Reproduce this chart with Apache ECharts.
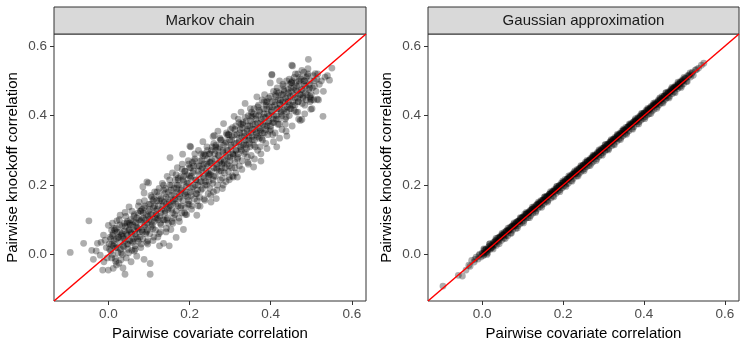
<!DOCTYPE html>
<html>
<head>
<meta charset="utf-8">
<script src="https://cdn.jsdelivr.net/npm/echarts@6/dist/echarts.min.js"></script>
<style>html,body{margin:0;padding:0;background:#fff;}#c{width:747px;height:349px;}</style>
</head>
<body>
<div id="c"></div>
<script>
const panelTitles = ['Markov chain', 'Gaussian approximation'];
const xTitle = 'Pairwise covariate correlation';
const yTitle = 'Pairwise knockoff correlation';
const tickVals = [0, 0.2, 0.4, 0.6];
const axisRange = [-0.134, 0.635];

// Markov chain panel: scattered points
const markovPoints = [
[-0.094,0.006],[-0.061,0.032],[-0.048,0.097],[-0.041,0.012],[-0.037,-0.014],[-0.027,0.032],[-0.02,-0.002],[-0.012,0.056],[-0.011,-0.021],[-0.014,-0.045],[-0.008,0.041],[-0.03,0.01],[-0.005,0.02],[-0.018,0.035],[-0.003,-0.01],
[0.0,0.084],[0.0,-0.045],[0.012,-0.04],[0.008,0.07],[0.021,0.097],[0.041,-0.057],[0.029,0.113],[0.041,0.121],[0.003,0.015],[0.006,0.045],[0.01,0.0],[0.012,0.06],[0.015,0.03],[0.017,-0.012],[0.019,0.075],[0.022,0.02],[0.024,0.048],[0.026,-0.025],[0.028,0.065],[0.03,0.035],[0.032,0.005],[0.034,0.082],[0.036,0.052],[0.036,-0.039],[0.038,0.022],[0.04,0.068],[0.042,0.04],[0.044,-0.01],[0.046,0.09],[0.047,0.055],[0.049,0.03],[0.02,-0.03],[0.008,0.028],
[0.051,0.137],[0.056,-0.021],[0.052,0.072],[0.053,0.04],[0.055,0.1],[0.057,0.06],[0.058,0.012],[0.06,0.085],[0.062,0.045],[0.063,0.11],[0.065,0.068],[0.066,0.025],[0.068,0.092],[0.069,0.05],[0.07,-0.005],[0.071,0.078],[0.073,0.12],[0.074,0.038],[0.076,0.151],[0.077,0.065],[0.079,0.095],[0.08,0.02],[0.082,0.07],[0.083,0.13],[0.085,0.195],[0.085,0.045],[0.086,0.105],[0.088,-0.014],[0.088,0.177],[0.089,0.08],[0.09,0.14],[0.092,0.06],[0.093,0.115],[0.095,0.209],[0.096,0.09],[0.097,0.03],[0.099,0.206],[0.099,0.125],
[0.103,-0.057],[0.103,-0.026],[0.101,0.1],[0.102,0.06],[0.104,0.145],[0.105,0.08],[0.107,0.165],[0.108,0.115],[0.11,0.04],[0.111,0.135],[0.113,0.095],[0.114,0.18],[0.116,0.07],[0.117,0.125],[0.119,0.155],[0.12,0.105],[0.122,0.05],[0.123,0.14],[0.125,0.19],[0.126,0.025],[0.127,0.11],[0.129,0.16],[0.13,0.085],[0.132,0.13],[0.133,0.205],[0.135,0.1],[0.136,0.032],[0.137,0.15],[0.139,0.175],[0.14,0.12],[0.142,0.065],[0.143,0.145],[0.145,0.225],[0.146,0.105],[0.147,0.16],[0.149,0.135],[0.15,0.025],[0.148,0.09],
[0.152,0.279],[0.152,0.2],[0.154,0.072],[0.155,0.17],[0.156,0.13],[0.158,0.235],[0.159,0.15],[0.161,0.105],[0.162,0.19],[0.164,0.16],[0.165,0.215],[0.167,0.049],[0.167,0.125],[0.169,0.18],[0.17,0.25],[0.172,0.14],[0.173,0.2],[0.175,0.095],[0.176,0.165],[0.178,0.225],[0.179,0.185],[0.181,0.12],[0.182,0.26],[0.183,0.289],[0.184,0.155],[0.185,0.072],[0.186,0.21],[0.188,0.175],[0.189,0.24],[0.19,0.135],[0.192,0.195],[0.193,0.115],[0.194,0.23],[0.196,0.165],[0.197,0.27],[0.198,0.205],[0.199,0.145],[0.2,0.25],
[0.201,0.312],[0.203,0.31],[0.202,0.18],[0.204,0.225],[0.206,0.14],[0.207,0.265],[0.209,0.195],[0.21,0.24],[0.212,0.16],[0.213,0.29],[0.215,0.215],[0.216,0.175],[0.218,0.113],[0.219,0.255],[0.221,0.2],[0.222,0.3],[0.224,0.23],[0.225,0.165],[0.226,0.139],[0.227,0.27],[0.229,0.21],[0.23,0.245],[0.232,0.19],[0.233,0.325],[0.235,0.26],[0.236,0.22],[0.238,0.156],[0.239,0.285],[0.24,0.24],[0.242,0.2],[0.243,0.31],[0.245,0.255],[0.246,0.175],[0.247,0.225],[0.249,0.29],[0.25,0.265],[0.248,0.21],
[0.251,0.23],[0.253,0.151],[0.254,0.3],[0.255,0.27],[0.257,0.205],[0.258,0.34],[0.259,0.18],[0.26,0.25],[0.261,0.343],[0.262,0.29],[0.264,0.225],[0.265,0.315],[0.266,0.161],[0.267,0.26],[0.269,0.2],[0.27,0.355],[0.271,0.285],[0.273,0.24],[0.274,0.31],[0.276,0.215],[0.277,0.27],[0.278,0.33],[0.28,0.25],[0.281,0.19],[0.282,0.3],[0.284,0.377],[0.285,0.265],[0.286,0.235],[0.288,0.32],[0.289,0.285],[0.29,0.21],[0.292,0.345],[0.293,0.26],[0.295,0.3],[0.296,0.24],[0.298,0.223],[0.299,0.33],[0.3,0.28],
[0.301,0.36],[0.302,0.31],[0.304,0.25],[0.305,0.34],[0.306,0.226],[0.307,0.29],[0.308,0.223],[0.31,0.398],[0.311,0.32],[0.312,0.265],[0.314,0.37],[0.315,0.3],[0.317,0.345],[0.318,0.223],[0.319,0.28],[0.32,0.39],[0.322,0.325],[0.323,0.255],[0.325,0.36],[0.326,0.305],[0.327,0.41],[0.329,0.34],[0.33,0.27],[0.331,0.375],[0.333,0.315],[0.334,0.35],[0.335,0.29],[0.337,0.435],[0.338,0.33],[0.34,0.385],[0.341,0.305],[0.342,0.36],[0.344,0.265],[0.345,0.4],[0.346,0.34],[0.348,0.37],[0.349,0.31],[0.35,0.42],
[0.351,0.35],[0.352,0.285],[0.354,0.395],[0.355,0.33],[0.356,0.375],[0.358,0.252],[0.359,0.42],[0.36,0.36],[0.362,0.31],[0.363,0.4],[0.364,0.345],[0.366,0.454],[0.367,0.38],[0.368,0.3],[0.37,0.43],[0.371,0.365],[0.372,0.335],[0.374,0.41],[0.375,0.355],[0.376,0.269],[0.377,0.39],[0.379,0.445],[0.38,0.33],[0.381,0.375],[0.383,0.42],[0.384,0.35],[0.385,0.46],[0.387,0.395],[0.388,0.32],[0.389,0.43],[0.391,0.37],[0.392,0.405],[0.393,0.345],[0.395,0.45],[0.396,0.385],[0.397,0.425],[0.399,0.494],[0.4,0.36],
[0.403,0.519],[0.403,0.517],[0.402,0.41],[0.404,0.44],[0.405,0.38],[0.407,0.47],[0.408,0.4],[0.41,0.43],[0.411,0.35],[0.413,0.455],[0.414,0.39],[0.415,0.31],[0.416,0.48],[0.418,0.42],[0.419,0.445],[0.421,0.375],[0.422,0.5],[0.424,0.43],[0.425,0.405],[0.427,0.46],[0.428,0.36],[0.43,0.44],[0.431,0.485],[0.433,0.415],[0.434,0.47],[0.436,0.39],[0.437,0.45],[0.439,0.5],[0.44,0.341],[0.441,0.425],[0.443,0.475],[0.444,0.44],[0.446,0.4],[0.447,0.49],[0.449,0.455],[0.45,0.42],
[0.452,0.545],[0.454,0.543],[0.451,0.47],[0.453,0.5],[0.455,0.43],[0.457,0.48],[0.458,0.51],[0.46,0.45],[0.462,0.495],[0.463,0.41],[0.465,0.47],[0.467,0.52],[0.468,0.44],[0.47,0.49],[0.472,0.46],[0.473,0.386],[0.475,0.505],[0.477,0.389],[0.478,0.475],[0.48,0.45],[0.482,0.5],[0.484,0.43],[0.486,0.485],[0.488,0.51],[0.49,0.46],[0.493,0.562],[0.495,0.49],[0.497,0.44],[0.499,0.418],[0.498,0.5],
[0.502,0.42],[0.506,0.445],[0.51,0.521],[0.515,0.447],[0.518,0.445],[0.503,0.48],[0.508,0.5],[0.512,0.47],[0.52,0.49],[0.525,0.5],[0.529,0.398],[0.534,0.511],[0.545,0.502],[0.551,0.537],[0.505,0.515],[0.514,0.505]
];

// Markov chain panel: dense core of the cloud near the diagonal
const markovCore = [
[0.002,0.03],[0.006,0.01],[0.01,0.055],[0.014,0.04],[0.018,0.02],[0.022,0.065],[0.026,0.05],[0.03,0.015],[0.034,0.06],[0.038,0.045],
[0.042,0.08],[0.046,0.03],[0.05,0.07],[0.054,0.085],[0.058,0.04],[0.062,0.095],[0.066,0.06],[0.07,0.105],[0.074,0.075],[0.078,0.05],
[0.082,0.1],[0.086,0.12],[0.09,0.085],[0.094,0.065],[0.098,0.11],[0.102,0.13],[0.106,0.095],[0.11,0.075],[0.114,0.14],[0.118,0.115],
[0.122,0.1],[0.126,0.155],[0.13,0.12],[0.134,0.14],[0.138,0.1],[0.142,0.165],[0.146,0.13],[0.15,0.15],[0.154,0.185],[0.158,0.12],
[0.162,0.17],[0.166,0.145],[0.17,0.2],[0.174,0.16],[0.178,0.135],[0.182,0.19],[0.186,0.225],[0.19,0.17],[0.194,0.205],[0.198,0.155],
[0.202,0.22],[0.206,0.19],[0.21,0.255],[0.214,0.2],[0.218,0.175],[0.222,0.24],[0.226,0.21],[0.23,0.27],[0.234,0.225],[0.238,0.2],
[0.242,0.26],[0.246,0.235],[0.25,0.29],[0.254,0.24],[0.258,0.215],[0.262,0.275],[0.266,0.25],[0.27,0.305],[0.274,0.265],[0.278,0.24],
[0.282,0.295],[0.286,0.27],[0.29,0.325],[0.294,0.28],[0.298,0.255],[0.302,0.315],[0.306,0.29],[0.31,0.345],[0.314,0.3],[0.318,0.275],
[0.322,0.335],[0.326,0.31],[0.33,0.365],[0.334,0.32],[0.338,0.295],[0.342,0.355],[0.346,0.33],[0.35,0.385],[0.354,0.34],[0.358,0.315],
[0.362,0.375],[0.366,0.35],[0.37,0.4],[0.374,0.36],[0.378,0.335],[0.382,0.395],[0.386,0.37],[0.39,0.42],[0.394,0.38],[0.398,0.355],
[0.402,0.415],[0.406,0.39],[0.41,0.44],[0.414,0.4],[0.418,0.375],[0.422,0.435],[0.426,0.41],[0.43,0.46],[0.434,0.42],[0.438,0.395],
[0.442,0.455],[0.446,0.43],[0.45,0.48],[0.454,0.44],[0.458,0.415],[0.462,0.475],[0.466,0.45],[0.47,0.5],[0.474,0.46],[0.478,0.435],
[0.482,0.49],[0.486,0.465],[0.49,0.515],[0.494,0.475],[0.498,0.45],
[0.004,0.05],[0.008,-0.01],[0.012,0.025],[0.016,0.07],[0.02,0.045],[0.024,0.005],[0.028,0.085],[0.032,0.055],[0.036,0.025],[0.04,0.09],
[0.044,0.06],[0.048,0.015],[0.052,0.09],[0.056,0.065],[0.06,0.035],[0.064,0.115],[0.068,0.08],[0.072,0.045],[0.076,0.1],[0.08,0.125],
[0.084,0.065],[0.088,0.135],[0.092,0.1],[0.096,0.07],[0.1,0.145],[0.104,0.115],[0.108,0.085],[0.112,0.16],[0.116,0.105],[0.12,0.13],
[0.124,0.17],[0.128,0.09],[0.132,0.155],[0.136,0.185],[0.14,0.125],[0.144,0.1],[0.148,0.18],[0.152,0.14],[0.156,0.2],[0.16,0.155],
[0.164,0.115],[0.168,0.19],[0.172,0.22],[0.176,0.175],[0.18,0.14],[0.184,0.215],[0.188,0.24],[0.192,0.18],[0.196,0.145],[0.2,0.225],
[0.204,0.17],[0.208,0.235],[0.212,0.27],[0.216,0.215],[0.22,0.185],[0.224,0.255],[0.228,0.185],[0.232,0.25],[0.236,0.29],[0.24,0.21],
[0.244,0.275],[0.248,0.23],[0.252,0.265],[0.256,0.31],[0.26,0.225],[0.264,0.3],[0.268,0.245],[0.272,0.285],[0.276,0.33],[0.28,0.26],
[0.284,0.315],[0.288,0.25],[0.292,0.3],[0.296,0.345],[0.3,0.27],[0.304,0.33],[0.308,0.285],[0.312,0.36],[0.316,0.32],[0.32,0.29],
[0.324,0.35],[0.328,0.3],[0.332,0.38],[0.336,0.34],[0.34,0.315],[0.344,0.37],[0.348,0.32],[0.352,0.4],[0.356,0.36],[0.36,0.33],
[0.364,0.39],[0.368,0.34],[0.372,0.415],[0.376,0.38],[0.38,0.35],[0.384,0.405],[0.388,0.36],[0.392,0.44],[0.396,0.4],[0.4,0.37],
[0.404,0.425],[0.408,0.38],[0.412,0.46],[0.416,0.42],[0.42,0.39],[0.424,0.445],[0.428,0.4],[0.432,0.475],[0.436,0.44],[0.44,0.41],
[0.444,0.465],[0.448,0.42],[0.452,0.495],[0.456,0.46],[0.46,0.43],[0.464,0.485],[0.468,0.44],[0.472,0.51],[0.476,0.475],[0.48,0.455],
[0.484,0.5],[0.488,0.445],[0.492,0.52],[0.496,0.48],[0.5,0.46]
];

// Markov chain panel: outer parts of the cloud on both sides of the diagonal
const markovEdge = [
[0.01,0.09],[0.018,-0.02],[0.027,0.1],[0.035,0.0],[0.043,0.11],[0.05,0.005],[0.058,0.125],[0.066,0.015],[0.074,0.14],[0.081,0.03],
[0.089,0.155],[0.097,0.04],[0.105,0.17],[0.112,0.05],[0.12,0.18],[0.128,0.065],[0.136,0.2],[0.143,0.075],[0.151,0.215],[0.159,0.09],
[0.167,0.23],[0.174,0.105],[0.182,0.245],[0.19,0.115],[0.198,0.26],[0.205,0.13],[0.213,0.275],[0.221,0.14],[0.229,0.29],[0.236,0.16],
[0.244,0.3],[0.252,0.17],[0.26,0.32],[0.267,0.185],[0.275,0.335],[0.283,0.2],[0.291,0.35],[0.298,0.215],[0.306,0.365],[0.314,0.235],
[0.322,0.38],[0.329,0.245],[0.337,0.395],[0.345,0.26],[0.353,0.41],[0.36,0.275],[0.368,0.425],[0.376,0.29],[0.384,0.44],[0.391,0.305],
[0.399,0.455],[0.407,0.325],[0.415,0.47],[0.422,0.335],[0.43,0.49],[0.438,0.355],[0.446,0.505],[0.453,0.37],[0.461,0.52],[0.469,0.39],
[0.477,0.53],[0.484,0.405],[0.492,0.535],[0.5,0.445],[0.508,0.485],[0.516,0.52],[0.53,0.47],[0.54,0.515],
[0.014,0.075],[0.031,-0.015],[0.047,0.095],[0.064,0.01],[0.079,0.125],[0.095,0.035],[0.11,0.155],[0.125,0.06],[0.141,0.19],[0.157,0.095],
[0.172,0.215],[0.188,0.12],[0.203,0.25],[0.219,0.155],[0.234,0.285],[0.25,0.19],[0.265,0.31],[0.281,0.22],[0.296,0.345],[0.312,0.25],
[0.327,0.375],[0.343,0.28],[0.358,0.405],[0.374,0.31],[0.389,0.44],[0.405,0.345],[0.42,0.465],[0.436,0.375],[0.451,0.495],[0.467,0.41],
[0.482,0.525],[0.497,0.455]
];

// Gaussian approximation panel: tight band along the diagonal
const gaussPoints = [
[-0.097,-0.091],[-0.059,-0.06],[-0.049,-0.062],[-0.033,-0.031],[-0.026,-0.017],[-0.02,-0.022],[-0.015,-0.008],[-0.01,-0.013],[-0.006,0.001],[-0.003,-0.007],
[0.0,0.004],[0.003,-0.003],[0.005,0.014],[0.008,0.006],[0.01,0.016],[0.013,0.004],[0.015,0.016],[0.018,0.03],[0.02,0.015],[0.023,0.026],
[0.025,0.02],[0.028,0.035],[0.03,0.027],[0.033,0.04],[0.035,0.026],[0.038,0.047],[0.04,0.036],[0.043,0.049],[0.045,0.052],[0.048,0.041],
[0.05,0.058],[0.053,0.047],[0.055,0.064],[0.058,0.055],[0.06,0.067],[0.063,0.054],[0.065,0.071],[0.068,0.077],[0.07,0.062],[0.073,0.08],
[0.075,0.07],[0.078,0.087],[0.08,0.081],[0.083,0.075],[0.085,0.094],[0.088,0.083],[0.09,0.097],[0.093,0.088],[0.095,0.104],[0.098,0.093],
[0.1,0.108],[0.103,0.097],[0.105,0.116],[0.108,0.104],[0.11,0.117],[0.113,0.106],[0.115,0.122],[0.118,0.126],[0.12,0.112],[0.123,0.13],
[0.125,0.119],[0.128,0.137],[0.13,0.131],[0.133,0.125],[0.135,0.144],[0.138,0.133],[0.14,0.148],[0.143,0.138],[0.145,0.155],[0.148,0.143],
[0.15,0.157],[0.153,0.147],[0.155,0.166],[0.158,0.153],[0.16,0.168],[0.163,0.156],[0.165,0.172],[0.168,0.176],[0.17,0.163],[0.173,0.181],
[0.175,0.169],[0.178,0.187],[0.18,0.182],[0.183,0.176],[0.185,0.195],[0.188,0.183],[0.19,0.198],[0.193,0.187],[0.195,0.205],[0.198,0.192],
[0.2,0.207],[0.203,0.198],[0.205,0.216],[0.208,0.203],[0.21,0.218],[0.213,0.205],[0.215,0.222],[0.218,0.227],[0.22,0.213],[0.223,0.231],
[0.225,0.219],[0.228,0.237],[0.23,0.232],[0.233,0.226],[0.235,0.245],[0.238,0.232],[0.24,0.248],[0.243,0.237],[0.245,0.254],[0.248,0.243],
[0.25,0.258],[0.253,0.247],[0.255,0.265],[0.258,0.253],[0.26,0.268],[0.263,0.256],[0.265,0.272],[0.268,0.277],[0.27,0.263],[0.273,0.281],
[0.275,0.268],[0.278,0.287],[0.28,0.283],[0.283,0.276],[0.285,0.294],[0.288,0.282],[0.29,0.299],[0.293,0.287],[0.295,0.305],[0.298,0.293],
[0.3,0.307],[0.303,0.297],[0.305,0.316],[0.308,0.302],[0.31,0.318],[0.313,0.305],[0.315,0.323],[0.318,0.327],[0.32,0.313],[0.323,0.331],
[0.325,0.318],[0.328,0.337],[0.33,0.333],[0.333,0.326],[0.335,0.344],[0.338,0.332],[0.34,0.349],[0.343,0.337],[0.345,0.355],[0.348,0.342],
[0.35,0.358],[0.353,0.347],[0.355,0.366],[0.358,0.352],[0.36,0.368],[0.363,0.356],[0.365,0.373],[0.368,0.377],[0.37,0.363],[0.373,0.381],
[0.375,0.368],[0.378,0.387],[0.38,0.383],[0.383,0.376],[0.385,0.394],[0.388,0.382],[0.39,0.399],[0.393,0.387],[0.395,0.405],[0.398,0.392],
[0.4,0.408],[0.403,0.397],[0.405,0.415],[0.408,0.402],[0.41,0.418],[0.413,0.405],[0.415,0.423],[0.418,0.427],[0.42,0.413],[0.423,0.431],
[0.425,0.418],[0.428,0.437],[0.43,0.433],[0.433,0.426],[0.435,0.444],[0.438,0.432],[0.44,0.449],[0.443,0.437],[0.445,0.455],[0.448,0.442],
[0.45,0.457],[0.453,0.447],[0.455,0.465],[0.458,0.452],[0.46,0.468],[0.463,0.456],[0.465,0.472],[0.468,0.477],[0.47,0.463],[0.473,0.48],
[0.475,0.469],[0.478,0.486],[0.48,0.483],[0.483,0.477],[0.485,0.493],[0.488,0.482],[0.49,0.498],[0.493,0.487],[0.495,0.503],[0.498,0.492],
[0.502,0.508],[0.505,0.499],[0.508,0.515],[0.512,0.517],[0.515,0.511],[0.52,0.525],[0.527,0.531],[0.535,0.537],[0.542,0.545],[0.548,0.551]
];

// Gaussian approximation panel: dense centre of the band
const gaussCore = [
[0.001,0.003],[0.006,0.011],[0.011,0.008],[0.016,0.022],[0.021,0.019],[0.026,0.031],[0.031,0.036],[0.036,0.038],[0.041,0.049],[0.046,0.05],
[0.051,0.055],[0.056,0.061],[0.061,0.069],[0.066,0.068],[0.071,0.078],[0.076,0.082],[0.081,0.086],[0.086,0.093],[0.091,0.095],[0.096,0.103],
[0.101,0.106],[0.106,0.112],[0.111,0.118],[0.116,0.12],[0.121,0.128],[0.126,0.131],[0.131,0.137],[0.136,0.143],[0.141,0.146],[0.146,0.152],
[0.151,0.156],[0.156,0.163],[0.161,0.166],[0.166,0.173],[0.171,0.176],[0.176,0.182],[0.181,0.187],[0.186,0.191],[0.191,0.198],[0.196,0.2],
[0.201,0.208],[0.206,0.211],[0.211,0.217],[0.216,0.222],[0.221,0.226],[0.226,0.233],[0.231,0.236],[0.236,0.242],[0.241,0.247],[0.246,0.251],
[0.251,0.258],[0.256,0.261],[0.261,0.267],[0.266,0.272],[0.271,0.276],[0.276,0.283],[0.281,0.286],[0.286,0.292],[0.291,0.297],[0.296,0.301],
[0.301,0.308],[0.306,0.311],[0.311,0.317],[0.316,0.322],[0.321,0.326],[0.326,0.333],[0.331,0.336],[0.336,0.342],[0.341,0.347],[0.346,0.351],
[0.351,0.358],[0.356,0.361],[0.361,0.367],[0.366,0.372],[0.371,0.376],[0.376,0.383],[0.381,0.386],[0.386,0.392],[0.391,0.397],[0.396,0.401],
[0.401,0.407],[0.406,0.411],[0.411,0.417],[0.416,0.421],[0.421,0.426],[0.426,0.432],[0.431,0.435],[0.436,0.441],[0.441,0.446],[0.446,0.45],
[0.451,0.457],[0.456,0.46],[0.461,0.466],[0.466,0.47],[0.471,0.476],[0.476,0.481],[0.481,0.485],[0.486,0.49],[0.491,0.496],[0.496,0.5],
[0.503,0.507],[0.51,0.513],[0.518,0.521],[0.53,0.533],
[0.004,0.0],[0.009,0.014],[0.014,0.012],[0.019,0.025],[0.024,0.022],[0.029,0.029],[0.034,0.041],[0.039,0.04],[0.044,0.047],[0.049,0.056],
[0.054,0.057],[0.059,0.066],[0.064,0.068],[0.069,0.072],[0.074,0.082],[0.079,0.083],[0.084,0.09],[0.089,0.096],[0.094,0.098],[0.099,0.106],
[0.104,0.109],[0.109,0.116],[0.114,0.119],[0.119,0.124],[0.124,0.131],[0.129,0.133],[0.134,0.141],[0.139,0.144],[0.144,0.149],[0.149,0.156],
[0.154,0.158],[0.159,0.166],[0.164,0.168],[0.169,0.174],[0.174,0.18],[0.179,0.183],[0.184,0.19],[0.189,0.193],[0.194,0.199],[0.199,0.205],
[0.204,0.208],[0.209,0.215],[0.214,0.218],[0.219,0.224],[0.224,0.23],[0.229,0.233],[0.234,0.24],[0.239,0.243],[0.244,0.249],[0.249,0.255],
[0.254,0.258],[0.259,0.265],[0.264,0.268],[0.269,0.274],[0.274,0.28],[0.279,0.283],[0.284,0.29],[0.289,0.293],[0.294,0.299],[0.299,0.305],
[0.304,0.308],[0.309,0.315],[0.314,0.318],[0.319,0.324],[0.324,0.33],[0.329,0.333],[0.334,0.34],[0.339,0.343],[0.344,0.349],[0.349,0.355],
[0.354,0.358],[0.359,0.365],[0.364,0.368],[0.369,0.374],[0.374,0.38],[0.379,0.383],[0.384,0.39],[0.389,0.393],[0.394,0.399],[0.399,0.405],
[0.404,0.408],[0.409,0.414],[0.414,0.417],[0.419,0.423],[0.424,0.429],[0.429,0.432],[0.434,0.439],[0.439,0.442],[0.444,0.448],[0.449,0.454],
[0.454,0.457],[0.459,0.464],[0.464,0.467],[0.469,0.473],[0.474,0.479],[0.479,0.482],[0.484,0.489],[0.489,0.492],[0.494,0.498],[0.499,0.504]
];

// Gaussian approximation panel: outer edges of the band
const gaussEdge = [
[0.004,0.016],[0.012,0.0],[0.019,0.031],[0.027,0.016],[0.034,0.046],[0.042,0.031],[0.049,0.061],[0.057,0.046],[0.064,0.076],[0.072,0.061],
[0.079,0.091],[0.087,0.076],[0.094,0.106],[0.102,0.091],[0.109,0.121],[0.117,0.106],[0.124,0.136],[0.132,0.121],[0.139,0.151],[0.147,0.136],
[0.154,0.166],[0.162,0.151],[0.169,0.181],[0.177,0.166],[0.184,0.196],[0.192,0.181],[0.199,0.211],[0.207,0.196],[0.214,0.226],[0.222,0.211],
[0.229,0.241],[0.237,0.226],[0.244,0.256],[0.252,0.241],[0.259,0.271],[0.267,0.256],[0.274,0.286],[0.282,0.271],[0.289,0.301],[0.297,0.286],
[0.304,0.316],[0.312,0.301],[0.319,0.331],[0.327,0.316],[0.334,0.346],[0.342,0.331],[0.349,0.361],[0.357,0.346],[0.364,0.376],[0.372,0.361],
[0.379,0.391],[0.387,0.376],[0.394,0.406],[0.402,0.391],[0.409,0.421],[0.417,0.406],[0.424,0.436],[0.432,0.421],[0.439,0.451],[0.447,0.436],
[0.454,0.466],[0.462,0.451],[0.469,0.481],[0.477,0.466],[0.484,0.496],[0.492,0.481],[0.499,0.51],[0.507,0.498],[0.514,0.523],[0.522,0.516],
[-0.04,-0.045],[-0.03,-0.034],[-0.018,-0.014],[-0.008,-0.003]
];

const FONT = '"Liberation Sans", Arial, Helvetica, sans-serif';
const grids = [
  {left: 54, top: 34, width: 312, height: 267},
  {left: 428, top: 34, width: 311, height: 267}
];
const allPoints = [
  markovPoints.concat(markovCore, markovEdge),
  gaussPoints.concat(gaussCore, gaussEdge)
];

const chart = echarts.init(document.getElementById('c'), null, {renderer: 'canvas'});

const xAxes = [], yAxes = [], series = [], graphics = [];
grids.forEach((g, i) => {
  const common = {
    gridIndex: i, type: 'value', min: axisRange[0], max: axisRange[1],
    axisLine: {show: false, onZero: false}, splitLine: {show: false},
    axisTick: {show: true, customValues: tickVals, length: 4, lineStyle: {color: '#333333', width: 1}},
    axisLabel: {customValues: tickVals, formatter: v => v.toFixed(1), color: '#4D4D4D', fontSize: 13.5, fontFamily: FONT},
    nameLocation: 'middle',
    nameTextStyle: {color: '#000000', fontSize: 15, fontFamily: FONT}
  };
  xAxes.push(Object.assign({}, common, {
    name: xTitle, nameGap: 23,
    axisLabel: Object.assign({}, common.axisLabel, {margin: 6})
  }));
  yAxes.push(Object.assign({}, common, {
    name: yTitle, nameGap: 34,
    axisLabel: Object.assign({}, common.axisLabel, {margin: 7})
  }));
  series.push({
    type: 'scatter', xAxisIndex: i, yAxisIndex: i,
    data: allPoints[i], symbolSize: 6.8,
    itemStyle: {color: '#000000', opacity: 0.32},
    emphasis: {disabled: true}, z: 2, large: false
  });
  series.push({
    type: 'line', xAxisIndex: i, yAxisIndex: i,
    data: [[axisRange[0], axisRange[0]], [axisRange[1], axisRange[1]]],
    showSymbol: false, symbol: 'none',
    lineStyle: {color: '#FF0000', width: 1.5},
    z: 3, silent: true
  });
  graphics.push({
    type: 'rect', shape: {x: g.left, y: 7, width: g.width, height: 27},
    style: {fill: '#D9D9D9', stroke: '#333333', lineWidth: 1}
  });
  graphics.push({
    type: 'text', x: g.left + g.width / 2, y: 21,
    style: {text: panelTitles[i], fill: '#1A1A1A', font: '15px ' + FONT, textAlign: 'center', textVerticalAlign: 'middle'}
  });
});

chart.setOption({
  animation: false,
  backgroundColor: '#ffffff',
  grid: grids.map(g => Object.assign({show: true, borderColor: '#333333', borderWidth: 1, backgroundColor: 'transparent'}, g)),
  xAxis: xAxes,
  yAxis: yAxes,
  series: series,
  graphic: graphics
});
</script>
</body>
</html>
